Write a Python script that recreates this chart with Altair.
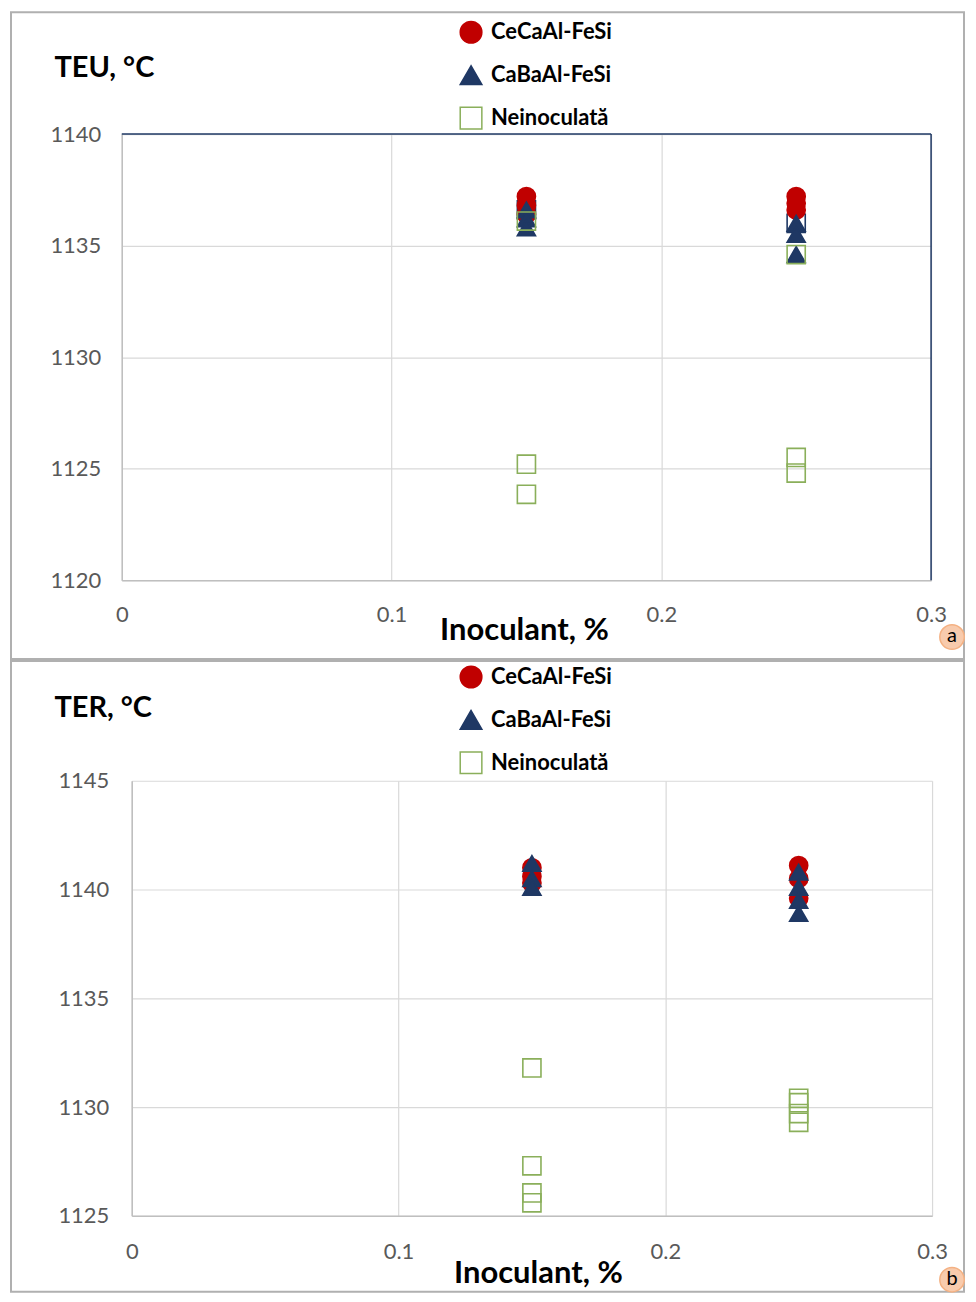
import altair as alt
import pandas as pd

FONT = "Lato"
series = ["CeCaAl-FeSi", "CaBaAl-FeSi", "Neinoculată"]
fills = ["#C00000", "#1F3864", "transparent"]
strokes = ["#C00000", "#1F3864", "#8AAF5A"]
shapes = ["circle", "triangle-up", "square"]

# ---- Panel a : TEU ----
teu_ce_x = [0.15, 0.15, 0.15, 0.25, 0.25, 0.25]
teu_ce_y = [1137.2, 1136.8, 1136.4, 1137.2, 1136.9, 1136.6]
teu_cb_x = [0.15, 0.15, 0.15, 0.25, 0.25, 0.25]
teu_cb_y = [1136.6, 1136.2, 1135.8, 1136.0, 1135.5, 1134.6]
teu_ni_x = [0.15, 0.15, 0.15, 0.25, 0.25, 0.25]
teu_ni_y = [1136.1, 1125.2, 1123.85, 1134.6, 1125.5, 1124.8]
teu_extra_x = [0.15, 0.25]
teu_extra_y = [1136.6, 1136.0]

# ---- Panel b : TER ----
ter_ce_x = [0.15, 0.15, 0.15, 0.25, 0.25, 0.25]
ter_ce_y = [1141.0, 1140.6, 1140.3, 1141.1, 1140.5, 1139.6]
ter_cb_x = [0.15, 0.15, 0.15, 0.25, 0.25, 0.25, 0.25]
ter_cb_y = [1141.2, 1140.5, 1140.1, 1140.8, 1140.1, 1139.5, 1138.9]
ter_ni_x = [0.15, 0.15, 0.15, 0.15, 0.25, 0.25, 0.25, 0.25]
ter_ni_y = [1131.8, 1127.3, 1126.05, 1125.6, 1130.4, 1130.2, 1129.7, 1129.3]

x_ticks = [0, 0.1, 0.2, 0.3]


def make_df(parts):
    rows = []
    for name, xs, ys in parts:
        for xv, yv in zip(xs, ys):
            rows.append({"Inoculant": xv, "T": yv, "Serie": name})
    return pd.DataFrame(rows)


df_a = make_df([(series[0], teu_ce_x, teu_ce_y), (series[1], teu_cb_x, teu_cb_y),
                (series[2], teu_ni_x, teu_ni_y)])
df_a_extra = pd.DataFrame({"Inoculant": teu_extra_x, "T": teu_extra_y})
df_b = make_df([(series[0], ter_ce_x, ter_ce_y), (series[1], ter_cb_x, ter_cb_y),
                (series[2], ter_ni_x, ter_ni_y)])
one = pd.DataFrame({"k": [0]})


def panel(df, ydom, yvals, ytitle, w, h, xrange, yoffset, lx, ly, frame, badge, badge_txt,
          ylabpad, xlabpad, titlex, titley, xtitlex, xtitley, navy_box, extra=None):
    xscale = alt.Scale(domain=[0, 0.3], nice=False, range=xrange)
    x = alt.X("Inoculant:Q", scale=xscale,
              axis=alt.Axis(values=x_ticks, format="~g", title="Inoculant, %",
                            labelFontSize=22, labelColor="#595959", labelFont=FONT,
                            labelPadding=xlabpad, ticks=False, labelFlush=False,
                            domainColor="#bfbfbf", domainWidth=1.5,
                            gridColor="#d9d9d9", gridWidth=1.2,
                            titleFontSize=31, titleFont=FONT, titleFontWeight="bold",
                            titleColor="black", titleX=xtitlex, titleAlign="center",
                            titleY=xtitley, titleBaseline="alphabetic"))
    y = alt.Y("T:Q", scale=alt.Scale(domain=ydom, nice=False, zero=False),
              axis=alt.Axis(values=yvals, format="d", title=ytitle, offset=yoffset,
                            labelFontSize=22, labelColor="#595959", labelFont=FONT,
                            labelPadding=ylabpad, ticks=False, labelFlush=False,
                            domainColor="#bfbfbf", domainWidth=1.5,
                            gridColor="#d9d9d9", gridWidth=1.2,
                            titleFontSize=29, titleFont=FONT, titleFontWeight="bold",
                            titleColor="black", titleAngle=0, titleAlign="left",
                            titleX=titlex, titleY=titley, titleBaseline="alphabetic"))
    pts = alt.Chart(df).mark_point(size=330, strokeWidth=1.6, opacity=1).encode(
        x=x, y=y,
        shape=alt.Shape("Serie:N", scale=alt.Scale(domain=series, range=shapes),
                        legend=alt.Legend(orient="none", legendX=lx, legendY=ly, title=None,
                                          symbolSize=470, symbolStrokeWidth=1.5,
                                          labelFontSize=22, labelFont=FONT,
                                          labelFontWeight="bold", labelColor="black",
                                          rowPadding=16, labelOffset=8, padding=0)),
        fill=alt.Fill("Serie:N", scale=alt.Scale(domain=series, range=fills)),
        stroke=alt.Stroke("Serie:N", scale=alt.Scale(domain=series, range=strokes)),
        order=alt.Order("ord:Q"),
    ).transform_calculate(
        ord="datum.Serie == 'Neinoculată' ? 3 : (datum.Serie == 'CaBaAl-FeSi' ? 2 : 1)"
    )
    layers = []
    fr = alt.Chart(one).mark_rect(filled=False, stroke="#b0b0b0", strokeWidth=2).encode(
        x=alt.value(frame[0]), x2=alt.value(frame[1]),
        y=alt.value(frame[2]), y2=alt.value(frame[3]))
    layers.append(fr)
    layers.append(pts)
    if extra is not None:
        ex = alt.Chart(extra).mark_point(shape="square", size=330, strokeWidth=1.6,
                                         color="#1F3864", filled=False, opacity=1).encode(
            x=alt.X("Inoculant:Q", scale=xscale), y="T:Q")
        layers.insert(1, ex)
    if navy_box:
        top = alt.Chart(one).mark_rule(color="#1F3864", strokeWidth=1.5).encode(
            y=alt.datum(ydom[1]))
        right = alt.Chart(one).mark_rule(color="#1F3864", strokeWidth=1.5).encode(
            x=alt.datum(0.3))
        layers += [top, right]
    bc = alt.Chart(one).mark_circle(fill="#F8CBAD", stroke="#F4B183", strokeWidth=1.5,
                                    opacity=1).encode(
        x=alt.value(badge[0]), y=alt.value(badge[1]), size=alt.value(600))
    bt = alt.Chart(one).mark_text(text=badge_txt, fontSize=20, font=FONT, color="black",
                                  align="center", baseline="middle").encode(
        x=alt.value(badge[0]), y=alt.value(badge[1] - 1))
    layers += [bc, bt]
    return alt.layer(*layers).properties(width=w, height=h)


pa = panel(df_a, [1120, 1140], [1120, 1125, 1130, 1135, 1140], "TEU, °C",
           811, 447, [0, 811], 0, 338, -114, (-111, 844, -122, 526), (832, 504), "a",
           21, 24, -68, -58, 403, 59, True, extra=df_a_extra)
pb = panel(df_b, [1125, 1145], [1125, 1130, 1135, 1140, 1145], "TER, °C",
           812, 436, [10, 812], -10, 338, -116, (-111, 844, -120, 512), (832, 500), "b",
           23, 26, -78, -64, 417, 67, False)

chart = alt.concat(pa, pb, columns=1, spacing=0).properties(
    padding={"left": 2, "top": 2, "right": 0, "bottom": 0},
    background="white",
).configure_view(strokeWidth=0).resolve_scale(
    x="independent", y="independent", shape="independent", fill="independent",
    stroke="independent")

chart.save("out.html", embed_options={"renderer": "svg", "actions": False})
